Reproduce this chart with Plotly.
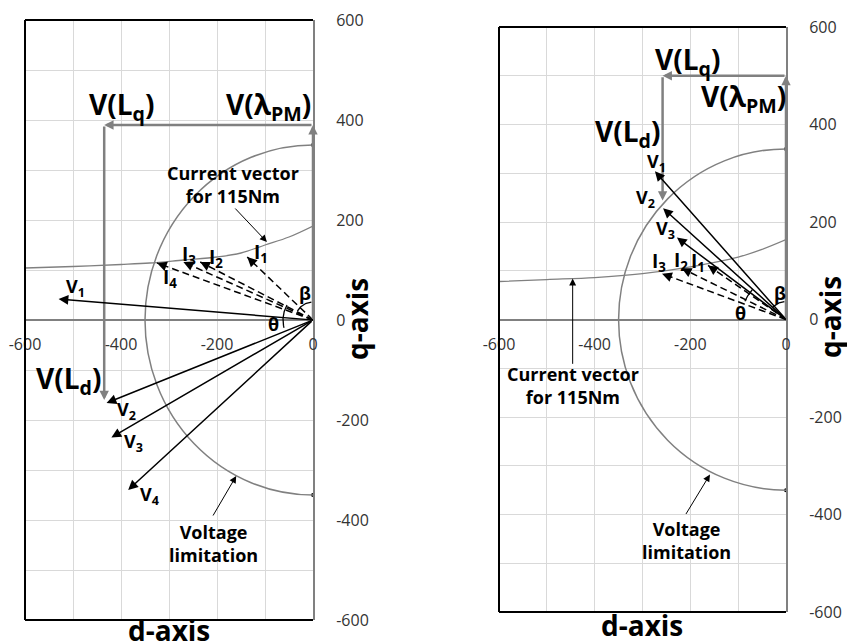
import numpy as np
import plotly.graph_objects as go

# ---------------- data ----------------
# Left diagram
L_chain_d = [0, 0, -435, -435]          # V(lambda_PM) -> V(Lq) -> V(Ld)
L_chain_q = [0, 390, 390, -160]
L_V_names = ["V<sub>1</sub>", "V<sub>2</sub>", "V<sub>3</sub>", "V<sub>4</sub>"]
L_V_d = [-530, -430, -420, -385]
L_V_q = [42, -166, -235, -340]
L_I_names = ["I<sub>1</sub>", "I<sub>2</sub>", "I<sub>3</sub>", "I<sub>4</sub>"]
L_I_d = [-137, -235, -270, -325]
L_I_q = [126, 116, 116, 114]
L_torque_d = [-600, -500, -400, -340, -270, -200, -150, -100, -50, 0]
L_torque_q = [104, 107, 111, 114, 120, 126, 134, 150, 166, 188]
L_vlimit_r = 350

# Right diagram
R_chain_d = [0, 0, -258, -258]
R_chain_q = [0, 500, 500, 244]
R_V_names = ["V<sub>1</sub>", "V<sub>2</sub>", "V<sub>3</sub>"]
R_V_d = [-274, -257, -228]
R_V_q = [304, 228, 168]
R_I_names = ["I<sub>1</sub>", "I<sub>2</sub>", "I<sub>3</sub>"]
R_I_d = [-163, -218, -259]
R_I_q = [111, 105, 94]
R_torque_d = [-600, -500, -400, -300, -200, -100, -50, 0]
R_torque_q = [78, 82, 86, 94, 108, 128, 144, 164]
R_vlimit_r = 350

x_tickvals = [-600, -400, -200, 0]
y_tickvals = [-600, -400, -200, 0, 200, 400, 600]

# ---------------- layout geometry ----------------
W, H = 847, 644
FONT = "Open Sans"
L_px = (25, 313, 20, 620)    # left, right, top, bottom in pixels
R_px = (499, 786, 27, 612)


def dom(px):
    l, r, t, b = px
    return [l / W, r / W], [(H - b) / H, (H - t) / H]


L_xd, L_yd = dom(L_px)
R_xd, R_yd = dom(R_px)

fig = go.Figure()
annotations = []
shapes = []


def scale(px):
    l, r, t, b = px
    return (r - l) / 600.0, (b - t) / 1200.0


def add_panel(xr, yr, px, chain_d, chain_q, Vn, Vd, Vq, In, Id, Iq, td, tq, vr):
    sx, sy = scale(px)
    # voltage limitation circle
    shapes.append(dict(type="circle", xref=xr, yref=yr, x0=-vr, x1=vr, y0=-vr, y1=vr,
                       line=dict(color="#808080", width=1.5), layer="above"))
    fig.add_trace(go.Scatter(x=[0, 0], y=[vr, -vr], mode="markers", xaxis=xr, yaxis=yr,
                             marker=dict(color="black", size=4), cliponaxis=False,
                             showlegend=False, hoverinfo="skip"))
    # torque curve
    fig.add_trace(go.Scatter(x=td, y=tq, mode="lines", line=dict(color="#808080", width=1.3, shape="spline"),
                             xaxis=xr, yaxis=yr, showlegend=False, hoverinfo="skip"))
    # current vectors (dashed)
    xs, ys = [], []
    for d, q in zip(Id, Iq):
        xs += [0, d, None]
        ys += [0, q, None]
        lp = np.hypot(d * sx, q * sy)
        f = 1 - 6.0 / lp
        annotations.append(dict(x=d, y=q, ax=d * f, ay=q * f, xref=xr, yref=yr, axref=xr, ayref=yr,
                                text="", showarrow=True, arrowhead=2, arrowsize=1.3, arrowwidth=1.5,
                                arrowcolor="black", standoff=0))
    fig.add_trace(go.Scatter(x=xs, y=ys, mode="lines", line=dict(color="black", width=1.5, dash="7px,4px"),
                             xaxis=xr, yaxis=yr, showlegend=False, hoverinfo="skip"))
    # voltage chain (grey)
    for i in range(len(chain_d) - 1):
        annotations.append(dict(x=chain_d[i + 1], y=chain_q[i + 1], ax=chain_d[i], ay=chain_q[i],
                                xref=xr, yref=yr, axref=xr, ayref=yr, text="", showarrow=True,
                                arrowhead=2, arrowsize=0.75, arrowwidth=2.5, arrowcolor="#808080", standoff=0))
    # voltage vectors (solid)
    for d, q in zip(Vd, Vq):
        annotations.append(dict(x=d, y=q, ax=0, ay=0, xref=xr, yref=yr, axref=xr, ayref=yr,
                                text="", showarrow=True, arrowhead=2, arrowsize=1.3, arrowwidth=1.5,
                                arrowcolor="black", standoff=0))
    # frame
    for (x0, y0, x1, y1) in [(0, 0, 0, 1), (0, 1, 1, 1), (0, 0, 1, 0)]:
        shapes.append(dict(type="line", xref=xr + " domain", yref=yr + " domain",
                           x0=x0, y0=y0, x1=x1, y1=y1, line=dict(color="black", width=2)))


def arc(xr, yr, px, r_px, a0, a1, arrow=False):
    sx, sy = scale(px)
    t = np.radians(np.linspace(a0, a1, 30))
    x = r_px * np.cos(t) / sx
    y = r_px * np.sin(t) / sy
    fig.add_trace(go.Scatter(x=x, y=y, mode="lines", line=dict(color="black", width=1.3),
                             xaxis=xr, yaxis=yr, showlegend=False, hoverinfo="skip"))
    if arrow:
        annotations.append(dict(x=x[-1], y=y[-1], ax=x[-4], ay=y[-4], xref=xr, yref=yr, axref=xr, ayref=yr,
                                text="", showarrow=True, arrowhead=2, arrowsize=1.0, arrowwidth=1.3,
                                arrowcolor="black", standoff=0))


add_panel("x", "y", L_px, L_chain_d, L_chain_q, L_V_names, L_V_d, L_V_q, L_I_names, L_I_d, L_I_q,
          L_torque_d, L_torque_q, L_vlimit_r)
add_panel("x2", "y2", R_px, R_chain_d, R_chain_q, R_V_names, R_V_d, R_V_q, R_I_names, R_I_d, R_I_q,
          R_torque_d, R_torque_q, R_vlimit_r)

arc("x", "y", L_px, 30, 150, 195)
arc("x", "y", L_px, 18, 95, 150, arrow=True)
arc("x2", "y2", R_px, 45, 138, 156)
arc("x2", "y2", R_px, 18, 95, 138, arrow=True)


def txt(xr, yr, x, y, s, size=18, **kw):
    d = dict(x=x, y=y, xref=xr, yref=yr, text=s, showarrow=False,
             font=dict(family=FONT, size=size, color="black"))
    d.update(kw)
    annotations.append(d)


def callout(xr, yr, x, y, ax, ay):
    annotations.append(dict(x=x, y=y, ax=ax, ay=ay, xref=xr, yref=yr, axref=xr, ayref=yr, text="",
                            showarrow=True, arrowhead=2, arrowsize=1.4, arrowwidth=1.0,
                            arrowcolor="black", standoff=0))


B = lambda s: "<b>" + s + "</b>"

# Left panel labels
txt("x", "y", -398, 428, B("V(L<sub>q</sub>)"), 28)
txt("x", "y", -92, 428, B("V(λ<sub>PM</sub>)"), 28)
txt("x", "y", -510, -120, B("V(L<sub>d</sub>)"), 28)
txt("x", "y", -167, 270, B("Current vector<br>for 115Nm"), 18)
callout("x", "y", -96, 156, -165, 226)
txt("x", "y", -208, -446, B("Voltage<br>limitation"), 18)
callout("x", "y", -160, -312, -210, -394)
for s, (x, y) in zip(L_I_names, [(-108, 134), (-202, 124), (-258, 130), (-298, 84)]):
    txt("x", "y", x, y, B(s), 19)
for s, (x, y) in zip(L_V_names, [(-494, 64), (-388, -182), (-375, -246), (-340, -352)]):
    txt("x", "y", x, y, B(s), 18)
txt("x", "y", -17, 54, B("β"), 18)
txt("x", "y", -83, -8, B("θ"), 18)

# Right panel labels
txt("x2", "y2", -205, 531, B("V(L<sub>q</sub>)"), 28)
txt("x2", "y2", -88, 455, B("V(λ<sub>PM</sub>)"), 28)
txt("x2", "y2", -331, 382, B("V(L<sub>d</sub>)"), 28)
txt("x2", "y2", -446, -135, B("Current vector<br>for 115Nm"), 18)
callout("x2", "y2", -446, 84, -446, -94)
txt("x2", "y2", -207, -453, B("Voltage<br>limitation"), 18)
callout("x2", "y2", -159, -318, -211, -402)
for s, (x, y) in zip(R_I_names, [(-184, 117), (-220, 121), (-266, 117)]):
    txt("x2", "y2", x, y, B(s), 19)
for s, (x, y) in zip(R_V_names, [(-270, 322), (-293, 248), (-251, 185)]):
    txt("x2", "y2", x, y, B(s), 18)
txt("x2", "y2", -13, 55, B("β"), 18)
txt("x2", "y2", -96, 14, B("θ"), 18)

# axis titles
for (px_x, px_y) in [(169, 630), (642, 625)]:
    annotations.append(dict(x=px_x / W, y=(H - px_y) / H, xref="paper", yref="paper", text=B("d-axis"),
                            xanchor="center", yanchor="middle",
                            showarrow=False, font=dict(family=FONT, size=28, color="black")))
for (px_x, px_y) in [(357, 319), (830, 317)]:
    annotations.append(dict(x=px_x / W, y=(H - px_y) / H, xref="paper", yref="paper", text=B("q-axis"),
                            xanchor="center", yanchor="middle",
                            showarrow=False, textangle=-90, font=dict(family=FONT, size=28, color="black")))


def xaxis(dom_x, dom_y, yname):
    return dict(domain=dom_x, range=[-600, 0], anchor="free", position=(dom_y[0] + dom_y[1]) / 2,
                tickvals=x_tickvals, ticktext=[str(v) for v in x_tickvals],
                showgrid=True, gridcolor="#d9d9d9", gridwidth=1,
                minor=dict(dtick=100, tick0=0, showgrid=True, gridcolor="#d9d9d9", gridwidth=1),
                zeroline=False, showline=False, ticks="", ticklabelstandoff=13, automargin=False,
                tickfont=dict(family=FONT, size=16, color="#333333"), fixedrange=True)


def yaxis(dom_y, xname):
    return dict(domain=dom_y, range=[-600, 600], anchor=xname, side="right",
                tickvals=y_tickvals, ticktext=[str(v) for v in y_tickvals],
                showgrid=True, gridcolor="#d9d9d9", gridwidth=1,
                minor=dict(dtick=100, tick0=0, showgrid=True, gridcolor="#d9d9d9", gridwidth=1),
                zeroline=True, zerolinecolor="#808080", zerolinewidth=1.5,
                showline=True, linecolor="#808080", linewidth=2, ticks="", ticklabelstandoff=18,
                automargin=False,
                tickfont=dict(family=FONT, size=16, color="#333333"), fixedrange=True)


fig.update_layout(
    width=W, height=H, autosize=False,
    margin=dict(l=0, r=0, t=0, b=0, autoexpand=False),
    paper_bgcolor="white", plot_bgcolor="white",
    showlegend=False,
    xaxis=xaxis(L_xd, L_yd, "y"),
    yaxis=yaxis(L_yd, "x"),
    xaxis2=xaxis(R_xd, R_yd, "y2"),
    yaxis2=yaxis(R_yd, "x2"),
    annotations=annotations,
    shapes=shapes,
    font=dict(family=FONT),
)

fig.write_html("out.html")
